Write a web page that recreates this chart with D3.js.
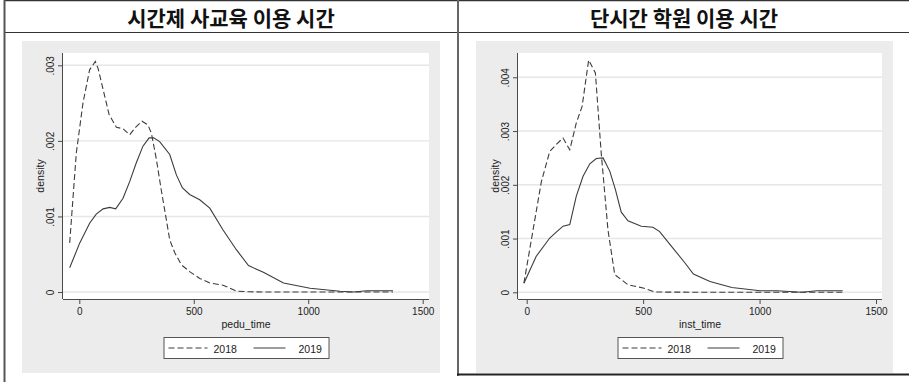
<!DOCTYPE html>
<html>
<head>
<meta charset="utf-8">
<script src="https://cdn.jsdelivr.net/npm/d3@7/dist/d3.min.js"></script>
<style>
  html, body { margin: 0; padding: 0; background: #fff; }
  svg { display: block; }
</style>
</head>
<body>
<svg id="chart" width="909" height="382"></svg>
<script>
// Panel titles and axis labels
const panelTitles = ["시간제 사교육 이용 시간", "단시간 학원 이용 시간"];
const xAxisTitles = ["pedu_time", "inst_time"];
const yAxisTitle = "density";
const legendLabels = ["2018", "2019"];

// Tick values
const xTicks = [0, 500, 1000, 1500];
const yTicksLeft = [0, 0.001, 0.002, 0.003];
const yTicksRight = [0, 0.001, 0.002, 0.003, 0.004];

// Kernel density estimates: pedu_time
const peduX2018 = [-42, -13, 16, 45, 70, 82, 104, 130, 162, 191, 220, 249, 274, 300, 315, 337, 358, 380, 395, 417, 446, 482, 526, 570, 628, 688, 745, 800, 900, 1000, 1100, 1200, 1300, 1370];
const peduD2018 = [0.00065, 0.00184, 0.0025, 0.00294, 0.00305, 0.00296, 0.00268, 0.00235, 0.00218, 0.00216, 0.00208, 0.00219, 0.00226, 0.00221, 0.0021, 0.00175, 0.00135, 0.00096, 0.00069, 0.00052, 0.00036, 0.00027, 0.00018, 0.00012, 0.00009, 0.00001, 0.000003, 0, 0, 0, 0, 0, 0, 0];
const peduX2019 = [-42, 2, 45, 74, 104, 133, 159, 191, 220, 249, 278, 305, 325, 351, 395, 424, 450, 482, 526, 570, 628, 686, 739, 804, 892, 1008, 1139, 1198, 1256, 1370];
const peduD2019 = [0.00032, 0.00065, 0.00091, 0.00103, 0.0011, 0.00112, 0.0011, 0.00124, 0.00146, 0.00171, 0.00193, 0.00204, 0.00204, 0.00199, 0.00182, 0.00155, 0.00138, 0.00129, 0.00122, 0.00111, 0.00082, 0.00056, 0.00035, 0.00026, 0.00012, 0.00005, 0.00001, 0, 0.000017, 0.000017];

// Kernel density estimates: inst_time
const instX2018 = [-12, 63, 99, 127, 156, 185, 213, 238, 266, 295, 320, 349, 378, 435, 500, 550, 800, 1100, 1357];
const instD2018 = [0.00017, 0.00206, 0.00262, 0.00275, 0.00287, 0.00265, 0.00315, 0.00346, 0.00432, 0.00408, 0.00259, 0.00116, 0.00033, 0.00014, 0.00008, 0.000005, 0, 0, 0];
const instX2019 = [-12, 41, 99, 127, 156, 185, 213, 242, 271, 299, 328, 357, 381, 406, 435, 492, 542, 571, 621, 679, 716, 787, 881, 1002, 1074, 1181, 1246, 1357];
const instD2019 = [0.00017, 0.00067, 0.00101, 0.00112, 0.00123, 0.00126, 0.00179, 0.00216, 0.00239, 0.00249, 0.0025, 0.00225, 0.00191, 0.00149, 0.00133, 0.00123, 0.00121, 0.00113, 0.00086, 0.00055, 0.00034, 0.0002, 0.00009, 0.00003, 0.00003, 0, 0.00003, 0.00003];

const svg = d3.select("#chart");
const ink = "#3c3c3c";
const axisInk = "#4a4a4a";
const sansFont = "'Liberation Sans', Arial, sans-serif";
const krFont = "'Noto Sans CJK KR', 'Noto Sans', sans-serif";

// Outer table lines
const frame = svg.append("g").attr("stroke", "#333").attr("fill", "none");
frame.append("line").attr("x1", 4).attr("x2", 909).attr("y1", 0.5).attr("y2", 0.5).attr("stroke-width", 1.5);
frame.append("line").attr("x1", 4).attr("x2", 909).attr("y1", 32.5).attr("y2", 32.5).attr("stroke-width", 1.2);
frame.append("line").attr("x1", 4.5).attr("x2", 4.5).attr("y1", 0).attr("y2", 382).attr("stroke-width", 2).attr("stroke", "#555");
frame.append("line").attr("x1", 458).attr("x2", 458).attr("y1", 0).attr("y2", 376).attr("stroke-width", 2).attr("stroke", "#666");
frame.append("line").attr("x1", 457).attr("x2", 909).attr("y1", 374.5).attr("y2", 374.5).attr("stroke-width", 2.2).attr("stroke", "#222");

const panels = [
  {
    title: panelTitles[0], xTitle: xAxisTitles[0], titleX: 231,
    bg: [22, 41, 418, 332], plot: [63, 429, 53, 299],
    xRange: [79.3, 422.7], yDomain: [0, 0.003], yRange: [292, 65.3],
    yTicks: yTicksLeft,
    series: [
      { x: peduX2018, d: peduD2018, dash: "6,3" },
      { x: peduX2019, d: peduD2019, dash: null }
    ]
  },
  {
    title: panelTitles[1], xTitle: xAxisTitles[1], titleX: 684,
    bg: [476, 41, 417, 332], plot: [518, 882, 53, 299],
    xRange: [526.7, 876], yDomain: [0, 0.004], yRange: [292.3, 77.3],
    yTicks: yTicksRight,
    series: [
      { x: instX2018, d: instD2018, dash: "6,3" },
      { x: instX2019, d: instD2019, dash: null }
    ]
  }
];

const fmt = v => v === 0 ? "0" : d3.format(".3f")(v).replace(/^0/, "");

panels.forEach(p => {
  // Title
  svg.append("text")
    .attr("x", p.titleX).attr("y", 17)
    .attr("text-anchor", "middle").attr("dominant-baseline", "central")
    .attr("font-family", krFont).attr("font-weight", "bold").attr("font-size", 21)
    .attr("fill", "#111").text(p.title);

  // Graph background
  svg.append("rect")
    .attr("x", p.bg[0]).attr("y", p.bg[1]).attr("width", p.bg[2]).attr("height", p.bg[3])
    .attr("fill", "#ececec");

  const [x0, x1, y0, y1] = p.plot;
  svg.append("rect")
    .attr("x", x0).attr("y", y0).attr("width", x1 - x0).attr("height", y1 - y0)
    .attr("fill", "#fff");

  const x = d3.scaleLinear().domain([0, 1500]).range(p.xRange);
  const y = d3.scaleLinear().domain(p.yDomain).range(p.yRange);

  // Gridlines
  svg.append("g").selectAll("line").data(p.yTicks).join("line")
    .attr("x1", x0).attr("x2", x1)
    .attr("y1", d => y(d)).attr("y2", d => y(d))
    .attr("stroke", "#e6e6e6").attr("stroke-width", 1.4);

  // Density curves
  const line = d3.line().x(d => x(d[0])).y(d => y(d[1]));
  p.series.forEach(s => {
    const pts = s.x.map((v, i) => [v, s.d[i]]);
    svg.append("path").datum(pts)
      .attr("d", line)
      .attr("fill", "none").attr("stroke", ink).attr("stroke-width", 1.1)
      .attr("stroke-dasharray", s.dash);
  });

  // X axis
  const xa = svg.append("g").attr("transform", `translate(0,${y1})`)
    .call(d3.axisBottom(x).tickValues(xTicks).tickSize(5).tickPadding(4).tickFormat(d3.format("d")));
  xa.select(".domain").attr("d", `M${x0},0.5H${x1}`).attr("stroke", axisInk);
  xa.selectAll(".tick line").attr("stroke", axisInk);
  xa.selectAll(".tick text").attr("font-family", sansFont).attr("font-size", 10).attr("fill", "#222");

  // Y axis
  const ya = svg.append("g").attr("transform", `translate(${x0},0)`)
    .call(d3.axisLeft(y).tickValues(p.yTicks).tickSize(5).tickFormat(fmt));
  ya.select(".domain").attr("d", `M-0.5,${y0}V${y1}`).attr("stroke", axisInk);
  ya.selectAll(".tick line").attr("stroke", axisInk);
  ya.selectAll(".tick text")
    .attr("font-family", sansFont).attr("font-size", 10).attr("fill", "#222")
    .attr("x", null).attr("dy", null)
    .attr("text-anchor", "middle")
    .attr("transform", "translate(-13,0) rotate(-90)")
    .attr("y", 0).attr("dominant-baseline", "central");

  // Axis titles
  svg.append("text")
    .attr("x", (x0 + x1) / 2).attr("y", 324)
    .attr("text-anchor", "middle").attr("dominant-baseline", "central")
    .attr("font-family", sansFont).attr("font-size", 10.5).attr("fill", "#222")
    .text(p.xTitle);
  svg.append("text")
    .attr("transform", `translate(${x0 - 23},${(y0 + y1) / 2}) rotate(-90)`)
    .attr("text-anchor", "middle").attr("dominant-baseline", "central")
    .attr("font-family", sansFont).attr("font-size", 10.5).attr("fill", "#222")
    .text(yAxisTitle);

  // Legend
  const lw = 165, lh = 21;
  const lx = (x0 + x1) / 2 - lw / 2, ly = 337;
  const lg = svg.append("g").attr("transform", `translate(${lx},${ly})`);
  lg.append("rect").attr("x", 0.5).attr("y", 0.5).attr("width", lw).attr("height", lh)
    .attr("fill", "#fff").attr("stroke", "#555").attr("stroke-width", 1);
  const items = [
    { label: legendLabels[0], dash: p.series[0].dash, lx0: 5, lx1: 44, tx: 50 },
    { label: legendLabels[1], dash: p.series[1].dash, lx0: 90, lx1: 122, tx: 135 }
  ];
  items.forEach(it => {
    lg.append("line").attr("x1", it.lx0).attr("x2", it.lx1)
      .attr("y1", lh / 2 + 0.5).attr("y2", lh / 2 + 0.5)
      .attr("stroke", ink).attr("stroke-width", 1.1).attr("stroke-dasharray", it.dash);
    lg.append("text").attr("x", it.tx).attr("y", lh / 2 + 1)
      .attr("dominant-baseline", "central")
      .attr("font-family", sansFont).attr("font-size", 10.5).attr("fill", "#222")
      .text(it.label);
  });
});
</script>
</body>
</html>
